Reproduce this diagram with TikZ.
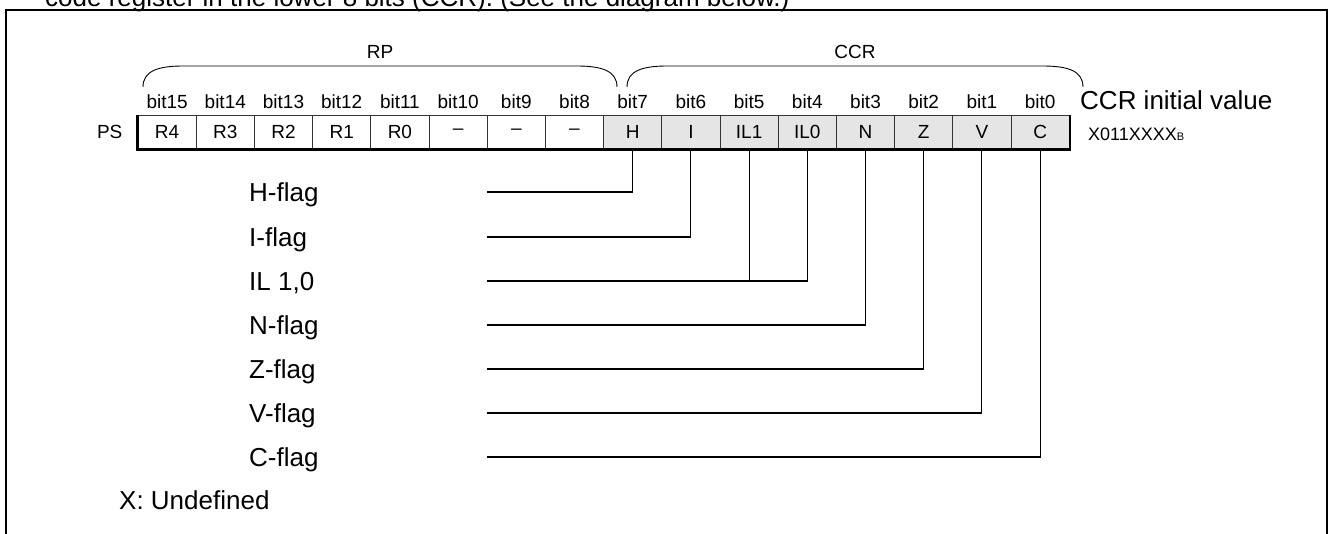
\documentclass[tikz,border=0pt]{standalone}
\usepackage{fontspec}
\setmainfont{Liberation Sans}
\usetikzlibrary{positioning}
\definecolor{ccrgray}{gray}{0.9}
\newcommand{\fs}[1]{\fontsize{#1}{#1}\selectfont}
\begin{document}
\begin{tikzpicture}[x=1pt, y=-1pt,
    cell/.style={draw=black!80, line width=0.9pt, minimum width=58.2pt, minimum height=34pt, inner sep=0pt, font=\fs{19}},
    bitlabel/.style={anchor=base, inner sep=0pt, font=\fs{19}},
    flag/.style={anchor=base west, inner sep=0pt, font=\fs{26}},
    wire/.style={line width=1.1pt},
    brace/.style={line width=0.9pt}]
  \useasboundingbox (0,0) rectangle (1332,533);
  \node[anchor=base west, inner sep=0pt, font=\fs{26}] (intro) at (45,6) {code register in the lower 8 bits (CCR). (See the diagram below.)};
  \draw[line width=2pt] (6,545) -- (6,10) -- (1327,10) -- (1327,545);
  \foreach \lbl [count=\i from 0] in {R4,R3,R2,R1,R0,\textendash,\textendash,\textendash,H,I,IL1,IL0,N,Z,V,C} {
    \pgfmathtruncatemacro{\bitno}{15-\i}
    \ifnum\i<8 \def\cellfill{white}\else\def\cellfill{ccrgray}\fi
    \node[cell, fill=\cellfill] (b\bitno) at ({167.1+\i*58.2}, 132) {\lbl};
    \node[bitlabel] (t\bitno) at ({167.1+\i*58.2}, 108) {bit\bitno};
  }
  \draw[line width=2.2pt] (b15.north west) -- (b15.south west) -- (b0.south east) -- (b0.north east);
  \node[left=15pt of b15, inner sep=0pt, font=\fs{19}] (ps) {PS};
  \draw[brace] (143,87) .. controls (143,71) and (158,66) .. (183,66) -- (577,66) .. controls (602,66) and (617,71) .. (617,87);
  \draw[brace] (627,87) .. controls (627,71) and (642,66) .. (667,66) -- (1043,66) .. controls (1068,66) and (1083,71) .. (1083,87);
  \node[font=\fs{19}] (rp) at (380,52) {RP};
  \node[font=\fs{19}] (ccr) at (855,52) {CCR};
  \node[anchor=base west, inner sep=0pt, font=\fs{26}] (initlbl) at (1080,109) {CCR initial value};
  \node[anchor=base west, inner sep=0pt, font=\fs{18}] (initval) at (1088,140) {X011XXXX{\fs{11}B}};
  \foreach \bitno/\lbl/\yy in {7/H-flag/192,6/I-flag/237,3/N-flag/325,2/Z-flag/369,1/V-flag/413,0/C-flag/457} {
    \node[flag] (f\bitno) at (249,\yy+9) {\lbl};
    \coordinate (w\bitno) at (487,\yy);
    \draw[wire] (b\bitno.south) |- (w\bitno);
  }
  \node[flag] (fil) at (249,290) {IL 1,0};
  \coordinate (wil) at (487,281);
  \draw[wire] (b5.south) |- (wil);
  \draw[wire] (b4.south) |- (wil);
  \node[flag] (undef) at (119,509) {X: Undefined};
\end{tikzpicture}
\end{document}
